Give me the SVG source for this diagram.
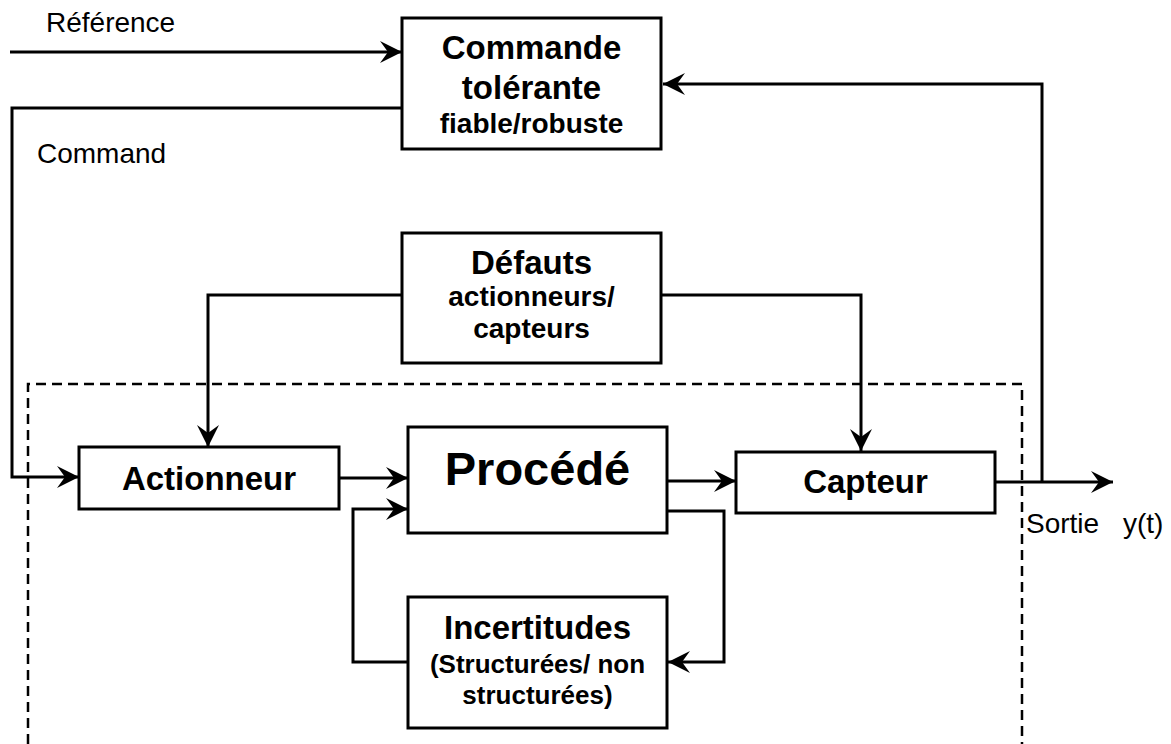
<svg xmlns="http://www.w3.org/2000/svg" width="1171" height="744" viewBox="0 0 1171 744">
  <defs>
    <marker id="arr" markerUnits="userSpaceOnUse" markerWidth="26" markerHeight="26" viewBox="-24 -12 26 24" refX="0" refY="0" orient="auto">
      <path d="M0,0 L-22,-11 L-14,0 L-22,11 Z" fill="#000"/>
    </marker>
  </defs>
  <style>
    .box { fill: #fff; stroke: #000; stroke-width: 3; }
    .conn { fill: none; stroke: #000; stroke-width: 3; }
    .dash { fill: none; stroke: #000; stroke-width: 2.5; stroke-dasharray: 10 6; }
    .b { font-family: "Liberation Sans", Arial, sans-serif; font-weight: bold; text-anchor: middle; fill: #000; }
    .r { font-family: "Liberation Sans", Arial, sans-serif; font-size: 28px; fill: #000; }
  </style>
  <rect width="1171" height="744" fill="#fff"/>

  <path class="dash" d="M28,744 L28,384 L1022,384 L1022,744"/>

  <g id="connectors">
    <path class="conn" d="M10,52 L402,52" marker-end="url(#arr)"/>
    <path class="conn" d="M402,108 L12,108 L12,477 L79,477" marker-end="url(#arr)"/>
    <path class="conn" d="M1042,482 L1042,84 L663,84" marker-end="url(#arr)"/>
    <path class="conn" d="M402,295 L208,295 L208,447" marker-end="url(#arr)"/>
    <path class="conn" d="M661,295 L861,295 L861,451" marker-end="url(#arr)"/>
    <path class="conn" d="M339,478 L408,478" marker-end="url(#arr)"/>
    <path class="conn" d="M667,481 L736,481" marker-end="url(#arr)"/>
    <path class="conn" d="M995,482 L1113,482" marker-end="url(#arr)"/>
    <path class="conn" d="M408,662 L353,662 L353,509 L408,509" marker-end="url(#arr)"/>
    <path class="conn" d="M667,511 L724,511 L724,662 L668,662" marker-end="url(#arr)"/>
  </g>

  <g id="commande">
    <rect class="box" x="402" y="18" width="259" height="131"/>
    <text class="b" x="531.5" y="59" font-size="33">Commande</text>
    <text class="b" x="531.5" y="99" font-size="33">tolérante</text>
    <text class="b" x="531.5" y="133" font-size="28">fiable/robuste</text>
  </g>

  <g id="defauts">
    <rect class="box" x="402" y="233" width="259" height="130"/>
    <text class="b" x="531.5" y="274" font-size="33">Défauts</text>
    <text class="b" x="531.5" y="306" font-size="28">actionneurs/</text>
    <text class="b" x="531.5" y="338" font-size="28">capteurs</text>
  </g>

  <g id="actionneur">
    <rect class="box" x="79" y="447" width="260" height="62"/>
    <text class="b" x="209" y="490" font-size="33">Actionneur</text>
  </g>

  <g id="procede">
    <rect class="box" x="408" y="427" width="259" height="106"/>
    <text class="b" x="537.5" y="485" font-size="47">Procédé</text>
  </g>

  <g id="capteur">
    <rect class="box" x="736" y="452" width="259" height="61"/>
    <text class="b" x="865.5" y="493" font-size="33">Capteur</text>
  </g>

  <g id="incertitudes">
    <rect class="box" x="408" y="597" width="259" height="131"/>
    <text class="b" x="537.5" y="639" font-size="33">Incertitudes</text>
    <text class="b" x="537.5" y="673" font-size="26">(Structurées/ non</text>
    <text class="b" x="537.5" y="704" font-size="26">structurées)</text>
  </g>

  <g id="labels">
    <text class="r" x="46" y="32">Référence</text>
    <text class="r" x="37" y="163">Command</text>
    <text class="r" x="1026" y="533">Sortie</text>
    <text class="r" x="1123" y="533">y(t)</text>
  </g>
</svg>
